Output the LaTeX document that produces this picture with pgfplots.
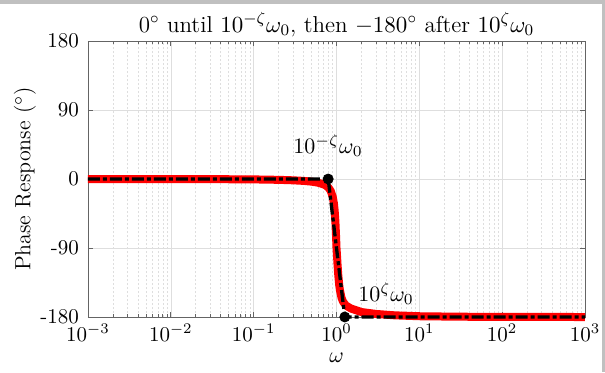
\RequirePackage{fix-cm}
\documentclass[border=0pt]{standalone}
\usepackage{fontspec}
\usepackage{pgfplots}
\pgfplotsset{compat=1.18}
\definecolor{axgray}{RGB}{100,100,100}
\definecolor{framegray}{RGB}{192,192,192}
\definecolor{gridgray}{RGB}{222,222,222}
\pgfplotstableread{
w phi
0.001 -0.005
0.01 -0.05
0.03 -0.155
0.1 -0.52
0.2 -1.07
0.3 -1.70
0.4 -2.45
0.5 -3.43
0.6 -4.82
0.7 -7.04
0.75 -8.77
0.8 -11.31
0.85 -15.41
0.9 -23.09
0.93 -31.78
0.95 -41.25
0.97 -55.90
0.99 -77.41
1.0 -90
1.01 -97
1.03 -112
1.05 -125
1.08 -139
1.1 -145
1.15 -155
1.2 -160
1.3 -165
1.5 -169
2 -173.5
3 -176
5 -177.8
10 -179
30 -179.6
100 -179.9
1000 -180
}\phasedata
\begin{document}
\begin{tikzpicture}
\useasboundingbox (0pt,0pt) rectangle (302.5pt,186pt);
\fill[framegray] (0pt,184pt) rectangle (302.5pt,186pt);
\fill[framegray] (301pt,0pt) rectangle (302.5pt,186pt);
\begin{axis}[
  at={(44pt,27.5pt)}, anchor=south west,
  scale only axis, width=248.5pt, height=138pt,
  xmode=log, xmin=1e-3, xmax=1e3, ymin=-180, ymax=180,
  xtick={1e-3,1e-2,1e-1,1,10,100,1000},
  ytick={-180,-90,0,90,180}, yticklabels={-180,-90,0,90,180},
  grid=both,
  major grid style={gridgray, line width=0.3pt},
  minor grid style={gridgray, line width=0.3pt, dash pattern=on 1pt off 1pt},
  axis line style={axgray, line width=0.35pt},
  tick style={axgray, line width=0.35pt},
  tick align=inside,
  major tick length=2.5pt, minor tick length=1.5pt,
  tick label style={font=\fontsize{10.5}{12}\selectfont},
  yticklabel style={xshift=-1pt},
  label style={font=\fontsize{11}{13}\selectfont},
  title style={font=\fontsize{11.5}{13}\selectfont, at={(axis description cs:0.5,1)}, anchor=base, yshift=-1.5pt},
  title={0$^\circ$ until $10^{-\zeta}\omega_0$, then $-180^\circ$ after $10^{\zeta}\omega_0$},
  xlabel={$\omega$},
  xlabel style={at={(axis description cs:0.5,-0.1486)}, anchor=center},
  ylabel={Phase Response ($^\circ$)},
  ylabel style={at={(axis description cs:-0.1268,0.5)}, anchor=center},
  clip=false,
]
\addplot[red, line width=4pt, line join=round] table[x=w, y=phi] {\phasedata};
\addplot[black, line width=1.65pt, dash pattern=on 6pt off 1.5pt on 2pt off 1.5pt] coordinates {(0.001,0) (0.7943,0) (1.2589,-180) (1000,-180)};
\addplot[only marks, mark=*, mark size=2.5pt, black] coordinates {(0.7943,0) (1.2589,-180)};
\node[font=\fontsize{11}{13}\selectfont] at (axis cs:0.79,43.5) {$10^{-\zeta}\omega_0$};
\node[font=\fontsize{11}{13}\selectfont] at (axis cs:3.96,-150) {$10^{\zeta}\omega_0$};
\end{axis}
\end{tikzpicture}
\end{document}
